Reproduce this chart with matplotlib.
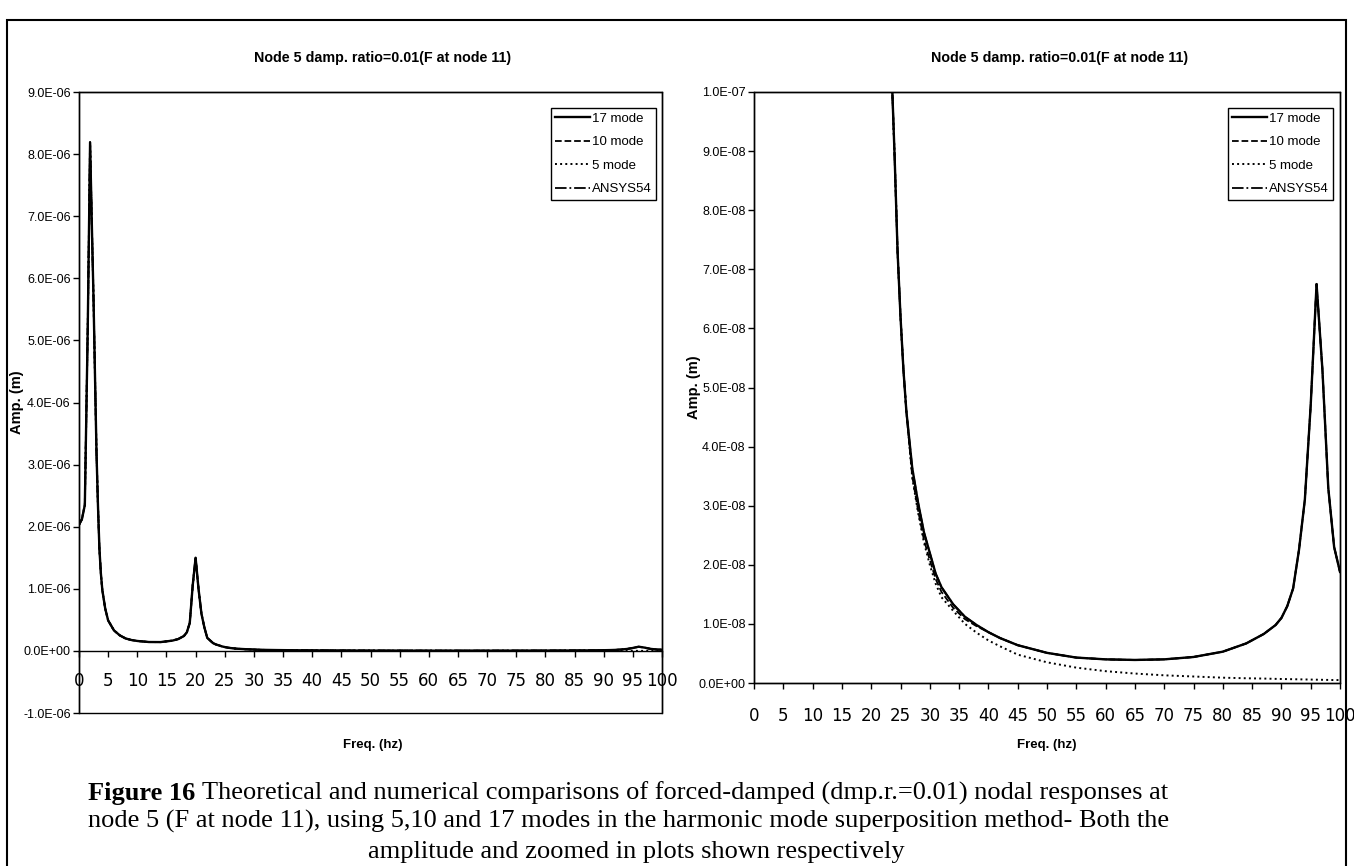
import matplotlib
matplotlib.use("Agg")
import matplotlib.pyplot as plt
from matplotlib import font_manager
from matplotlib.patches import Rectangle
from matplotlib.ticker import FuncFormatter

# frequency response of node 5, force at node 11, damping ratio 0.01
freq = [0, 0.5, 1, 1.5, 1.9, 2.25, 2.5, 2.75, 3, 3.25,
        3.5, 3.75, 4, 4.5, 5, 6, 7, 8, 9, 10,
        12, 14, 16, 17, 18, 18.5, 19, 19.5, 20, 20.5,
        21, 21.5, 22, 23, 23.5, 24, 24.5, 25, 25.5, 26,
        27, 28, 29, 30, 31, 32, 34, 36, 38, 40,
        42, 45, 50, 55, 60, 65, 70, 75, 80, 84,
        87, 89, 90, 91, 92, 93, 94, 95, 96, 97,
        98, 99, 100]

amp_17 = [2.03e-6, 2.12e-6, 2.35e-6, 5.2e-6, 8.19e-6, 6.66e-6, 5.63e-6, 4.4e-6, 3.2e-6, 2.35e-6,
          1.65e-6, 1.25e-6, 0.98e-6, 0.68e-6, 0.49e-6, 0.33e-6, 0.25e-6, 0.20e-6, 0.175e-6, 0.16e-6,
          0.143e-6, 0.142e-6, 0.165e-6, 0.19e-6, 0.24e-6, 0.30e-6, 0.45e-6, 1.05e-6, 1.50e-6, 1.0e-6,
          0.6e-6, 0.38e-6, 0.21e-6, 0.125e-6, 0.103e-6, 8.9e-8, 7.3e-8, 6.2e-8, 5.3e-8, 4.6e-8,
          3.64e-8, 3.05e-8, 2.55e-8, 2.2e-8, 1.85e-8, 1.62e-8, 1.33e-8, 1.12e-8, 0.98e-8, 0.86e-8,
          0.76e-8, 0.64e-8, 0.51e-8, 0.43e-8, 0.40e-8, 0.39e-8, 0.40e-8, 0.44e-8, 0.53e-8, 0.67e-8,
          0.83e-8, 0.98e-8, 1.1e-8, 1.3e-8, 1.6e-8, 2.25e-8, 3.1e-8, 4.7e-8, 6.75e-8, 5.3e-8,
          3.3e-8, 2.3e-8, 1.88e-8]

# 10 modes: slightly lower on the 27-38 Hz flank, otherwise on top of 17 modes
amp_10_tail = [3.5e-8, 2.92e-8, 2.42e-8, 2.08e-8, 1.76e-8, 1.54e-8, 1.27e-8, 1.08e-8, 0.96e-8]
amp_10 = amp_17[:40] + amp_10_tail + amp_17[49:]

# 5 modes: no resonance near 96 Hz
amp_5_tail = [3.48e-8, 2.88e-8, 2.38e-8, 2.0e-8, 1.68e-8, 1.45e-8, 1.22e-8, 1.0e-8, 0.85e-8, 0.72e-8,
              0.62e-8, 0.48e-8, 0.35e-8, 0.26e-8, 0.20e-8, 0.16e-8, 0.13e-8, 0.11e-8, 0.09e-8, 0.08e-8,
              0.075e-8, 0.07e-8, 0.068e-8, 0.066e-8, 0.064e-8, 0.062e-8, 0.06e-8, 0.058e-8, 0.056e-8, 0.054e-8,
              0.052e-8, 0.05e-8, 0.05e-8]
amp_5 = amp_17[:40] + amp_5_tail

amp_ansys = list(amp_17)

title = "Node 5 damp. ratio=0.01(F at node 11)"
caption = [
    "Theoretical and numerical comparisons of forced-damped (dmp.r.=0.01) nodal responses at",
    "node 5 (F at node 11), using 5,10 and 17 modes in the harmonic mode superposition method- Both the",
    "amplitude and zoomed in plots shown respectively",
]

installed = {f.name for f in font_manager.fontManager.ttflist}
narrow = "Liberation Sans Narrow" if "Liberation Sans Narrow" in installed else "Liberation Sans"

W, H = 1354, 866
fig = plt.figure(figsize=(W / 100, H / 100), dpi=100)


def px_axes(l, t, r, b):
    return fig.add_axes([l / W, 1 - b / H, (r - l) / W, (b - t) / H])


def sci(v, _):
    return f"{v:.1E}"


series = [
    (amp_ansys, "ANSYS54", dict(ls="-.", lw=1.3)),
    (amp_5, "5 mode", dict(ls=":", lw=1.4)),
    (amp_10, "10 mode", dict(ls="--", lw=1.3)),
    (amp_17, "17 mode", dict(ls="-", lw=1.7)),
]


def draw(ax, ymin, ymax, ystep, nsteps, tick_pad):
    lines = {}
    for amp, name, style in series:
        ln, = ax.plot(freq, amp, color="black", label=name, **style)
        lines[name] = ln
    ax.set_xlim(0, 100)
    ax.set_ylim(ymin, ymax)
    ax.set_xticks(range(0, 101, 5))
    ax.set_yticks([ymin + i * ystep for i in range(nsteps + 1)])
    ax.yaxis.set_major_formatter(FuncFormatter(sci))
    ax.tick_params(axis="y", direction="out", length=4, width=1, pad=2, labelsize=9)
    ax.tick_params(axis="x", direction="out", length=4, width=1, pad=tick_pad, labelsize=12)
    for lab in ax.get_xticklabels() + ax.get_yticklabels():
        lab.set_family(narrow)
    for sp in ax.spines.values():
        sp.set_linewidth(1)
    ax.spines["bottom"].set_position(("data", 0))
    ax.add_patch(Rectangle((0, 0), 1, 1, transform=ax.transAxes, fill=False,
                           ec="black", lw=1, clip_on=False))
    return [lines[n] for n in ["17 mode", "10 mode", "5 mode", "ANSYS54"]]


ax1 = px_axes(79, 92, 662, 713)
h1 = draw(ax1, -1e-6, 9e-6, 1e-6, 10, 11)
ax2 = px_axes(754, 92, 1340, 683)
h2 = draw(ax2, 0, 1e-7, 1e-8, 10, 13)

for ax, h, right in [(ax1, h1, 656), (ax2, h2, 1333)]:
    leg = ax.legend(h, [x.get_label() for x in h], loc="upper right",
                    bbox_to_anchor=(right / W, 1 - 108 / H), bbox_transform=fig.transFigure,
                    fancybox=False, edgecolor="black", framealpha=1, borderaxespad=0,
                    handlelength=2.6, handletextpad=0.15, labelspacing=0.85, borderpad=0.35,
                    prop=dict(family=narrow, size=9.5))
    leg.get_frame().set_linewidth(1)

# chart titles and axis labels
for cx, ylab_x, ylab_y in [(383, 17, 402), (1060, 694, 387)]:
    fig.text(cx / W, 1 - 58 / H, title, ha="center", va="center",
             family=narrow, weight="bold", fontsize=10.3)
    fig.text(ylab_x / W, 1 - ylab_y / H, "Amp. (m)", ha="center", va="center",
             rotation=90, family=narrow, weight="bold", fontsize=10.5)
fig.text(373 / W, 1 - 745 / H, "Freq. (hz)", ha="center", va="center",
         family=narrow, weight="bold", fontsize=9.5)
fig.text(1047 / W, 1 - 745 / H, "Freq. (hz)", ha="center", va="center",
         family=narrow, weight="bold", fontsize=9.5)

# caption, three lines under both charts, last one running off the page
serif = "Liberation Serif"
cap_size = 19
cap_x = 88
t = fig.text(cap_x / W, 1 - 800 / H, "Figure 16 ", ha="left", va="baseline",
             family=serif, weight="bold", fontsize=cap_size)
fig.canvas.draw()
bb = t.get_window_extent()
fig.text(bb.x1 / W, 1 - 800 / H, caption[0], ha="left", va="baseline",
         family=serif, fontsize=cap_size)
fig.text(cap_x / W, 1 - 828 / H, caption[1], ha="left", va="baseline",
         family=serif, fontsize=cap_size)
fig.text(636 / W, 1 - 858 / H, caption[2], ha="center", va="baseline",
         family=serif, fontsize=cap_size)

# outer frame round the whole figure
fig.add_artist(Rectangle((7 / W, -0.01), (1346 - 7) / W, 1 - 20 / H + 0.01,
                         transform=fig.transFigure, fill=False, ec="black", lw=1.5))

fig.savefig("out.png", dpi=100)
